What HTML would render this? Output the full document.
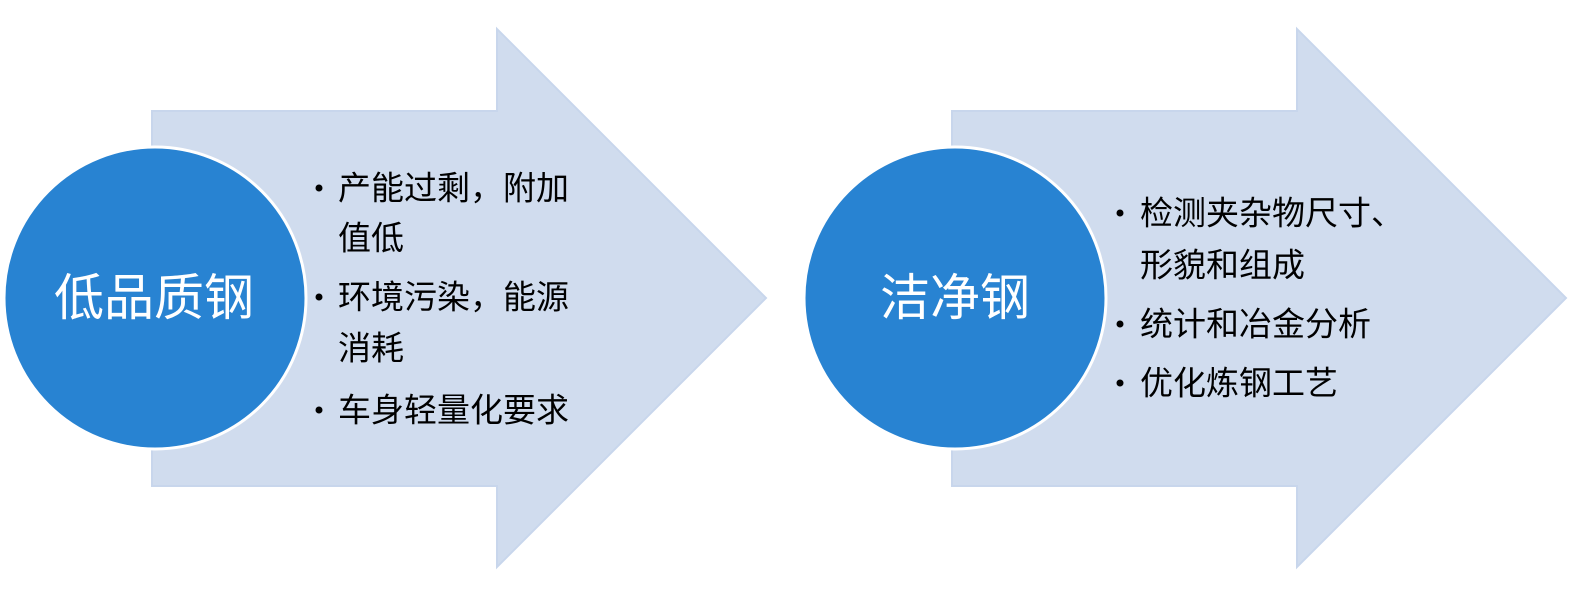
<!DOCTYPE html>
<html><head><meta charset="utf-8"><style>
body{margin:0;width:1585px;height:603px;background:#fff;position:relative;overflow:hidden;font-family:"Liberation Sans","Noto Sans CJK SC",sans-serif}
.t{position:absolute;font-size:33px;color:#000;white-space:nowrap;line-height:1;transform:translateY(-50%)}
.b{position:absolute;width:7px;height:7px;border-radius:50%;background:#000;transform:translate(-50%,-50%)}
.c{position:absolute;font-size:50px;color:#fff;white-space:nowrap;line-height:1;transform:translate(-50%,-50%)}
</style></head><body>
<svg width="1585" height="603" style="position:absolute;left:0;top:0">
<polygon points="152,111 497,111 497,29 766,298 497,567 497,486 152,486" fill="#D0DCEE" stroke="#C8D6EC" stroke-width="2"/>
<polygon points="952,111 1297,111 1297,29 1566,298 1297,567 1297,486 952,486" fill="#D0DCEE" stroke="#C8D6EC" stroke-width="2"/>
<circle cx="155" cy="298" r="151" fill="#2883D2" stroke="#fff" stroke-width="3"/>
<circle cx="955" cy="298" r="151" fill="#2883D2" stroke="#fff" stroke-width="3"/>
</svg>
<div class="c" style="left:154px;top:298px">低品质钢</div>
<div class="c" style="left:955px;top:298px">洁净钢</div>
<div class="b" style="left:319px;top:188px"></div><div class="t" style="left:338px;top:188px">产能过剩，附加</div>
<div class="t" style="left:338px;top:238px">值低</div>
<div class="b" style="left:319px;top:297px"></div><div class="t" style="left:338px;top:297px">环境污染，能源</div>
<div class="t" style="left:338px;top:348px">消耗</div>
<div class="b" style="left:319px;top:410px"></div><div class="t" style="left:338px;top:410px">车身轻量化要求</div>
<div class="b" style="left:1120px;top:213px"></div><div class="t" style="left:1140px;top:213px">检测夹杂物尺寸、</div>
<div class="t" style="left:1140px;top:265px">形貌和组成</div>
<div class="b" style="left:1120px;top:324px"></div><div class="t" style="left:1140px;top:324px">统计和冶金分析</div>
<div class="b" style="left:1120px;top:383px"></div><div class="t" style="left:1140px;top:383px">优化炼钢工艺</div>
</body></html>
